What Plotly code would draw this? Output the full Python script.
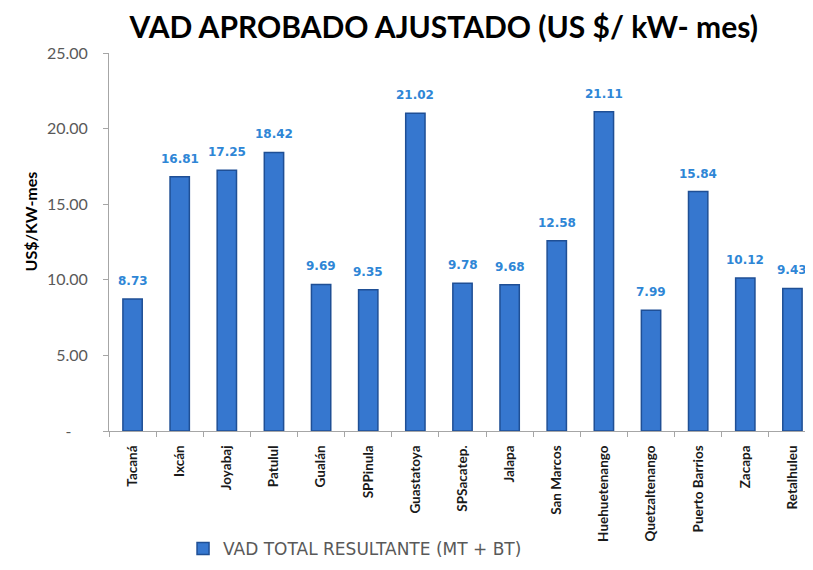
import plotly.graph_objects as go

categories = ["Tacaná", "Ixcán", "Joyabaj", "Patulul", "Gualán", "SPPinula", "Guastatoya",
              "SPSacatep.", "Jalapa", "San Marcos", "Huehuetenango", "Quetzaltenango",
              "Puerto Barrios", "Zacapa", "Retalhuleu"]
values = [8.73, 16.81, 17.25, 18.42, 9.69, 9.35, 21.02, 9.78, 9.68, 12.58, 21.11, 7.99, 15.84, 10.12, 9.43]
ytick_vals = [0, 5, 10, 15, 20, 25]
ytick_text = ["-" + "\u00a0" * 4, "5.00", "10.00", "15.00", "20.00", "25.00"]

FONT = "Lato"

fig = go.Figure()
fig.add_trace(go.Bar(
    x=categories, y=values,
    name="VAD TOTAL RESULTANTE (MT + BT)",
    marker=dict(color="#3677CF", line=dict(color="#1F4F95", width=1.5)),
    width=0.41,
    cliponaxis=False,
))

for c, v in zip(categories, values):
    fig.add_annotation(x=c, y=v, text=f"<b>{v:.2f}</b>", showarrow=False,
                       yanchor="bottom", yshift=9,
                       font=dict(family="DejaVu Sans", size=12, color="#2E86D6"))

# y-axis title placed like the original (slightly above the axis centre)
fig.add_annotation(xref="paper", yref="paper", x=-0.111, y=0.553, textangle=-90,
                   text="<b>US$/KW-mes</b>", showarrow=False,
                   xanchor="center", yanchor="middle",
                   font=dict(family=FONT, size=16, color="black"))

fig.update_layout(
    width=813, height=570,
    margin=dict(l=101, r=5, t=45, b=147, autoexpand=False),
    paper_bgcolor="white", plot_bgcolor="white",
    title=dict(text="<b>VAD APROBADO AJUSTADO (US $/ kW- mes)</b>",
               x=0.536, xanchor="center", y=0.965, yanchor="middle",
               font=dict(family=FONT, size=30, color="black")),
    showlegend=True,
    legend=dict(orientation="h", x=0.348, xanchor="center", y=-0.312, yanchor="middle",
                font=dict(family="DejaVu Sans", size=17, color="#595959")),
    bargap=0.57,
)
fig.update_yaxes(
    range=[0, 25], tickvals=ytick_vals, ticktext=ytick_text,
    showgrid=False, zeroline=False, automargin=False,
    showline=True, linecolor="#A6A6A6", linewidth=1,
    ticks="outside", ticklen=5, tickcolor="#A6A6A6",
    ticklabelstandoff=12,
    tickfont=dict(family=FONT, size=16, color="#595959"),
)
fig.update_xaxes(
    showgrid=False, showline=True, linecolor="#A6A6A6", linewidth=1, automargin=False,
    ticks="outside", ticklen=5, tickcolor="#A6A6A6", tickson="boundaries",
    tickangle=-90, ticklabelstandoff=8,
    tickfont=dict(family=FONT, size=13.5, color="#1A1A1A", weight="bold"),
)

fig.write_html("out.html")
